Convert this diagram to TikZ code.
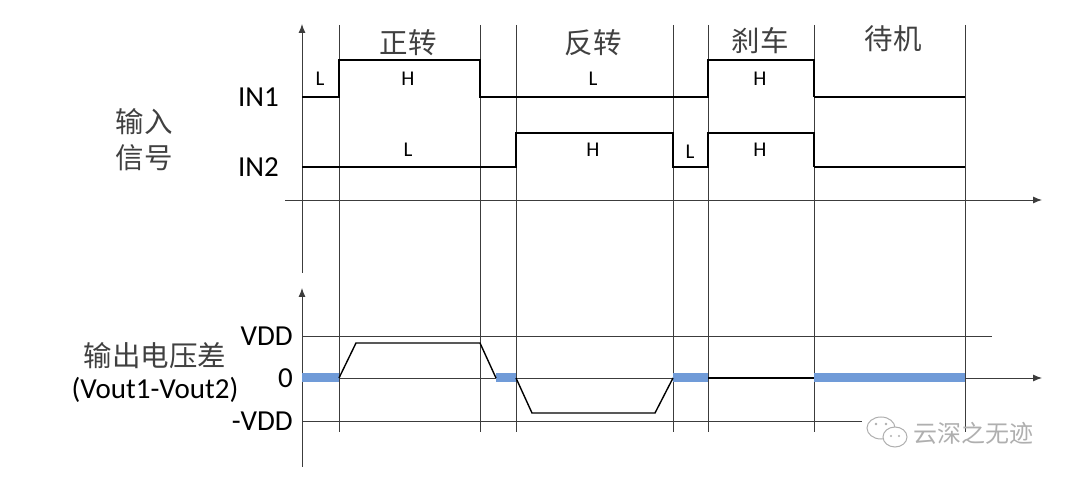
\documentclass[tikz,border=0pt]{standalone}
\usepackage{fontspec}
\setmainfont{Carlito}
\newfontfamily\cjk{Noto Sans CJK SC}
\usetikzlibrary{arrows.meta}
\definecolor{barblue}{RGB}{112,155,216}
\definecolor{gridc}{RGB}{60,60,60}
\definecolor{cjkc}{RGB}{64,64,64}
\definecolor{wm}{RGB}{175,175,175}
\begin{document}
\begin{tikzpicture}[x=1pt,y=-1pt,
  axis/.style={draw=gridc,line width=0.9pt},
  arr/.style={-{Latex[length=9pt,width=7pt]}},
  vline/.style={draw=gridc,line width=0.9pt},
  wave/.style={draw=black,line width=1.8pt,line join=miter},
  wavethick/.style={draw=black,line width=2.8pt},
  outw/.style={draw=black,line width=1.4pt},
  bar/.style={draw=barblue,line width=9pt},
  lvl/.style={font=\fontsize{21}{21}\selectfont,inner sep=0pt},
  title/.style={font=\cjk\fontsize{28.5}{28.5}\selectfont,text=cjkc,inner sep=0pt},
  side/.style={font=\fontsize{29}{29}\selectfont,inner sep=0pt,anchor=east},
  cjklbl/.style={font=\cjk\fontsize{28.5}{36}\selectfont,text=cjkc,inner sep=0pt,align=center}]
\useasboundingbox (0,0) rectangle (1080,478);
% vertical event lines
\foreach \x in {339,480,516,673,708,814,965}
  \draw[vline] (\x,25) -- (\x,432);
% upper axes
\coordinate (ua0) at (302,273);
\coordinate (ua1) at (302,24);
\draw[axis,arr] (ua0) -- (ua1);
\coordinate (uh0) at (285,200);
\coordinate (uh1) at (1042,200);
\draw[axis,arr] (uh0) -- (uh1);
% lower axes
\coordinate (la0) at (302,467);
\coordinate (la1) at (302,288);
\draw[axis,arr] (la0) -- (la1);
\coordinate (lh0) at (302,378);
\coordinate (lh1) at (1042,378);
\draw[axis,arr] (lh0) -- (lh1);
\draw[axis] (302,336) -- (992,336);
\draw[axis] (302,421) -- (862,421);
% IN1 waveform
\draw[wave] (302,97) -- (339,97) -- (339,60) -- (480,60) -- (480,97) -- (708,97) -- (708,60) -- (814,60) -- (814,97);
\draw[wavethick] (814,97) -- (965,97);
% IN2 waveform
\draw[wave] (302,167) -- (516,167) -- (516,133) -- (673,133) -- (673,167) -- (708,167) -- (708,133) -- (814,133) -- (814,167);
\draw[wavethick] (814,167) -- (965,167);
% output waveform
\draw[bar] (302,378) -- (339,378);
\draw[bar] (496,378) -- (516,378);
\draw[bar] (673,378) -- (708,378);
\draw[bar] (814,378) -- (965,378);
\draw[outw] (339,378) -- (356,343) -- (480,343) -- (496,378);
\draw[outw] (516,378) -- (532,413) -- (655,413) -- (673,378);
\draw[outw] (708,378) -- (814,378);
% section titles
\node[title] (t1) at (408,43) {正转};
\node[title] (t2) at (593,43) {反转};
\node[title] (t3) at (760,41) {刹车};
\node[title] (t4) at (893,39) {待机};
% level labels
\node[lvl] (a1) at (320,79) {L};
\node[lvl] (a2) at (408,79) {H};
\node[lvl] (a3) at (593,79) {L};
\node[lvl] (a4) at (760,79) {H};
\node[lvl] (b1) at (408,150) {L};
\node[lvl] (b2) at (593,150) {H};
\node[lvl] (b3) at (690,152) {L};
\node[lvl] (b4) at (760,150) {H};
% side labels
\node[side] (in1) at (279,97) {IN1};
\node[side] (in2) at (279,167) {IN2};
\node[cjklbl] (insig) at (144,140) {输入\\信号};
\node[side] (vdd) at (293,336) {VDD};
\node[side] (zero) at (293,378) {0};
\node[side] (nvdd) at (293,421) {-VDD};
\node[cjklbl] (outlbl) at (155,356) {输出电压差};
\node[font=\fontsize{29}{29}\selectfont,inner sep=0pt] (vout) at (155,390) {(Vout1-Vout2)};
% watermark
\begin{scope}[draw=wm,line width=1pt]
  \draw[fill=white] (881,428) ellipse (14pt and 11pt);
  \draw[fill=white] (895,437) ellipse (12pt and 10pt);
  \fill[wm] (876,424) circle (1.3pt) (886,424) circle (1.3pt) (891,436) circle (1.1pt) (899,436) circle (1.1pt);
\end{scope}
\node[font=\cjk\fontsize{24}{24}\selectfont,text=wm,inner sep=0pt,anchor=west] (wmtext) at (913,433) {云深之无迹};
\end{tikzpicture}
\end{document}
